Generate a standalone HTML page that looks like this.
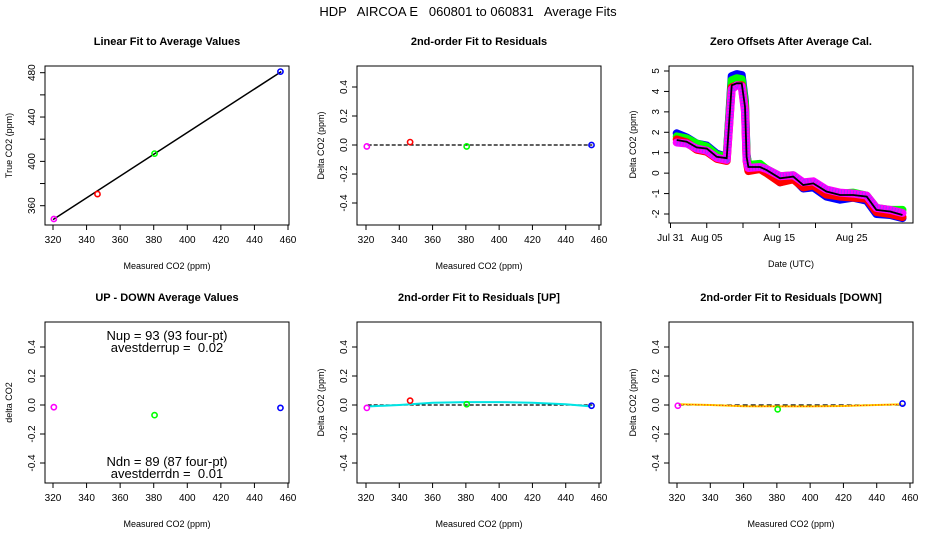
<!DOCTYPE html>
<html><head><meta charset="utf-8"><style>
html,body{margin:0;padding:0;background:#fff}
svg{display:block;font-family:"Liberation Sans",sans-serif}
</style></head><body>
<svg id="c" width="936" height="540" viewBox="0 0 936 540" xmlns="http://www.w3.org/2000/svg">
<rect x="0" y="0" width="936" height="540" fill="#fff"/>
<text x="468" y="16" text-anchor="middle" font-size="13" style="white-space:pre">HDP   AIRCOA E   060801 to 060831   Average Fits</text>
</svg>
<script>
// ---- data ----
const linX = [320.5, 346.5, 380.5, 455.5];
const linY = [348, 370.5, 407, 481];
const linColors = ['#ff00ff', '#ff0000', '#00ff00', '#0000ff'];
const linFit = [[320, 347.5], [456, 481]];

const resX = [320.5, 346.5, 380.5, 455.5];
const resY = [-0.01, 0.02, -0.01, 0.0];

const udX = [320.5, 380.5, 455.5];
const udY = [-0.015, -0.07, -0.02];
const udColors = ['#ff00ff', '#00ff00', '#0000ff'];

const upX = [320.5, 346.5, 380.5, 455.5];
const upY = [-0.02, 0.03, 0.005, -0.005];
const upCurveX = [322, 340, 360, 380, 400, 420, 440, 455];
const upCurveY = [-0.01, 0.0, 0.015, 0.02, 0.02, 0.015, 0.005, -0.01];

const dnX = [320.5, 380.5, 455.5];
const dnY = [-0.005, -0.03, 0.01];
const dnColors = ['#ff00ff', '#00ff00', '#0000ff'];
const dnCurveX = [322, 340, 360, 380, 400, 420, 440, 455];
const dnCurveY = [0.005, 0.0, -0.008, -0.01, -0.01, -0.007, 0.0, 0.005];

const tsDays = [0.85, 2.23, 3.6, 5.0, 6.37, 7.75, 8.44, 9.13, 9.82, 10.28, 10.5, 10.74, 12.34, 13.26, 15.1, 16.94, 18.3, 19.7, 21.5, 23.4, 25.2, 27.06, 28.4, 30.3, 32.0];
const tsMean = [1.62, 1.54, 1.26, 1.2, 0.8, 0.73, 4.3, 4.4, 4.4, 3.25, 0.8, 0.3, 0.3, 0.15, -0.25, -0.17, -0.58, -0.5, -0.9, -1.07, -1.07, -1.15, -1.8, -1.88, -2.05];
const tsBlue = [1.95, 1.75, 1.45, 1.35, 0.95, 0.8, 4.75, 4.85, 4.8, 3.5, 0.9, 0.35, 0.45, 0.1, -0.45, -0.25, -0.75, -0.7, -1.15, -1.3, -1.2, -1.35, -2.0, -2.05, -2.2];
const tsGreen = [1.8, 1.7, 1.45, 1.3, 0.9, 0.8, 4.55, 4.65, 4.6, 3.4, 0.85, 0.4, 0.45, 0.2, -0.15, -0.1, -0.5, -0.45, -0.85, -1.0, -0.95, -1.1, -1.7, -1.8, -1.8];
const tsRed = [1.65, 1.5, 1.15, 1.05, 0.7, 0.6, 4.2, 4.3, 4.3, 3.1, 0.6, 0.1, 0.2, 0.0, -0.45, -0.3, -0.7, -0.6, -1.05, -1.15, -1.2, -1.25, -1.9, -2.0, -2.15];
const tsMag = [1.5, 1.45, 1.2, 1.1, 0.75, 0.65, 4.1, 4.3, 4.25, 3.0, 0.6, 0.25, 0.3, 0.2, -0.15, -0.1, -0.45, -0.4, -0.8, -0.95, -1.0, -1.1, -1.7, -1.8, -1.95];
const dateTicks = [0, 5, 10, 15, 20, 25];
const dateLabels = ['Jul 31', 'Aug 05', '', 'Aug 15', '', 'Aug 25'];

const co2Ticks = [320, 340, 360, 380, 400, 420, 440, 460];
const trueTicks = [360, 380, 400, 420, 440, 460, 480];
const trueLabels = ['360', '', '400', '', '440', '', '480'];
const resTicks = [-0.4, -0.2, 0.0, 0.2, 0.4];
const resLabels = ['-0.4', '-0.2', '0.0', '0.2', '0.4'];
const offTicks = [-2, -1, 0, 1, 2, 3, 4, 5];

// ---- drawing ----
const svg = document.getElementById('c');
const NS = 'http://www.w3.org/2000/svg';
function mk(tag, attrs, parent) {
  const e = document.createElementNS(NS, tag);
  for (const k in attrs) e.setAttribute(k, attrs[k]);
  (parent || svg).appendChild(e);
  return e;
}
function lin(d0, d1, r0, r1) { return v => r0 + (v - d0) * (r1 - r0) / (d1 - d0); }

function panel(name, L, T, R, B, title, xlab, ylab) {
  const g = mk('g', {});
  
  
  const box = mk('rect', {x: L, y: T, width: R - L, height: B - T, fill: 'none', stroke: '#000', 'stroke-width': 1}, g);
  
  
  const t = mk('text', {x: (L + R) / 2, y: T - 21, 'text-anchor': 'middle', 'font-size': 11, 'font-weight': 'bold'}, g);
  t.textContent = title;
  
  
  const xl = mk('text', {x: (L + R) / 2, y: B + 44, 'text-anchor': 'middle', 'font-size': 9}, g);
  xl.textContent = xlab;
  
  
  const cy = (T + B) / 2;
  const yl = mk('text', {x: L - 33, y: cy, 'text-anchor': 'middle', 'font-size': 9, transform: `rotate(-90 ${L - 33} ${cy})`}, g);
  yl.textContent = ylab;
  
  
  return g;
}
function xAxis(g, ticks, labels, sx, B) {
  ticks.forEach((v, i) => {
    const x = sx(v);
    mk('line', {x1: x, x2: x, y1: B, y2: B + 5, stroke: '#000'}, g);
    if (labels[i] !== '') {
      const t = mk('text', {x: x, y: B + 18, 'text-anchor': 'middle', 'font-size': 10}, g);
      t.textContent = labels[i];
      
      
    }
  });
}
function yAxis(g, ticks, labels, sy, L) {
  ticks.forEach((v, i) => {
    const y = sy(v);
    mk('line', {x1: L - 5, x2: L, y1: y, y2: y, stroke: '#000'}, g);
    if (labels[i] !== '') {
      const t = mk('text', {x: L - 10, y: y, 'text-anchor': 'middle', 'font-size': 10, transform: `rotate(-90 ${L - 10} ${y})`}, g);
      t.textContent = labels[i];
      
      
    }
  });
}
function pts(g, xs, ys, cols, sx, sy) {
  xs.forEach((v, i) => {
    const c = mk('circle', {cx: sx(v), cy: sy(ys[i]), r: 2.6, fill: 'none', stroke: cols[i], 'stroke-width': 1.6}, g);
    
    
  });
}
function path(g, xs, ys, sx, sy, attrs) {
  const d = xs.map((v, i) => (i ? 'L' : 'M') + sx(v).toFixed(1) + ',' + sy(ys[i]).toFixed(1)).join(' ');
  return mk('path', Object.assign({d: d, fill: 'none'}, attrs), g);
}
const co2Labels = co2Ticks.map(String);

// Panel 1
{
  const L = 45, T = 66, R = 289, B = 225;
  const sx = lin(320, 460, 53, 288), sy = lin(360, 480, 205.7, 72.7);
  const g = panel('linear-fit-panel', L, T, R, B, 'Linear Fit to Average Values', 'Measured CO2 (ppm)', 'True CO2 (ppm)');
  xAxis(g, co2Ticks, co2Labels, sx, B);
  yAxis(g, trueTicks, trueLabels, sy, L);
  const fl = path(g, [linFit[0][0], linFit[1][0]], [linFit[0][1], linFit[1][1]], sx, sy, {stroke: '#000', 'stroke-width': 1.5});
  
  
  pts(g, linX, linY, linColors, sx, sy);
}
// Panel 2
{
  const L = 357, T = 66, R = 601, B = 225;
  const sx = lin(320, 460, 366, 599), sy = lin(0, 0.4, 145, 87);
  const g = panel('residuals-panel', L, T, R, B, '2nd-order Fit to Residuals', 'Measured CO2 (ppm)', 'Delta CO2 (ppm)');
  xAxis(g, co2Ticks, co2Labels, sx, B);
  yAxis(g, resTicks, resLabels, sy, L);
  const z = path(g, [321, 456], [0, 0], sx, sy, {stroke: '#000', 'stroke-width': 1.3, 'stroke-dasharray': '4,2'});
  
  
  pts(g, resX, resY, linColors, sx, sy);
}
// Panel 3
{
  const L = 669, T = 66, R = 913, B = 223;
  const sx = lin(0, 10, 670.5, 743), sy = lin(-2, 5, 214, 71);
  const g = panel('zero-offsets-panel', L, T, R, B, 'Zero Offsets After Average Cal.', 'Date (UTC)', 'Delta CO2 (ppm)');
  xAxis(g, dateTicks, dateLabels, sx, B);
  yAxis(g, offTicks, offTicks.map(String), sy, L);
  [[tsBlue, '#0000ff', 'blue'], [tsGreen, '#00ff00', 'green'], [tsRed, '#ff0000', 'red'], [tsMag, '#ff00ff', 'magenta']].forEach(s => {
    const p = path(g, tsDays, s[0], sx, sy, {stroke: s[1], 'stroke-width': 8, 'stroke-linejoin': 'round', 'stroke-linecap': 'round'});
    
    
  });
  const dp = path(g, tsDays, tsMag, sx, sy, {stroke: '#9933ff', 'stroke-width': 6, 'stroke-dasharray': '1,2', 'stroke-linejoin': 'round'});
  
  
  const m = path(g, tsDays, tsMean, sx, sy, {stroke: '#000', 'stroke-width': 1.8});
  
  
}
// Panel 4
{
  const L = 45, T = 322, R = 289, B = 483;
  const sx = lin(320, 460, 53, 288), sy = lin(0, 0.4, 405, 347);
  const g = panel('up-down-panel', L, T, R, B, 'UP - DOWN Average Values', 'Measured CO2 (ppm)', 'delta CO2');
  xAxis(g, co2Ticks, co2Labels, sx, B);
  yAxis(g, resTicks, resLabels, sy, L);
  pts(g, udX, udY, udColors, sx, sy);
  [['Nup = 93 (93 four-pt)', 340, 'nup-annotation'], ['avestderrup =  0.02', 352, 'avestderrup-annotation'], ['Ndn = 89 (87 four-pt)', 466, 'ndn-annotation'], ['avestderrdn =  0.01', 478, 'avestderrdn-annotation']].forEach(a => {
    const t = mk('text', {x: 167, y: a[1], 'text-anchor': 'middle', 'font-size': 13, style: 'white-space:pre'}, g);
    t.textContent = a[0];
    
    
  });
}
// Panel 5
{
  const L = 357, T = 322, R = 601, B = 483;
  const sx = lin(320, 460, 366, 599), sy = lin(0, 0.4, 405, 347);
  const g = panel('residuals-up-panel', L, T, R, B, '2nd-order Fit to Residuals [UP]', 'Measured CO2 (ppm)', 'Delta CO2 (ppm)');
  xAxis(g, co2Ticks, co2Labels, sx, B);
  yAxis(g, resTicks, resLabels, sy, L);
  const z = path(g, [321, 456], [0, 0], sx, sy, {stroke: '#000', 'stroke-width': 1.3, 'stroke-dasharray': '4,2'});
  
  
  const c = path(g, upCurveX, upCurveY, sx, sy, {stroke: '#00e5e5', 'stroke-width': 2});
  
  
  pts(g, upX, upY, linColors, sx, sy);
}
// Panel 6
{
  const L = 669, T = 322, R = 913, B = 483;
  const sx = lin(320, 460, 677, 910), sy = lin(0, 0.4, 405, 347);
  const g = panel('residuals-down-panel', L, T, R, B, '2nd-order Fit to Residuals [DOWN]', 'Measured CO2 (ppm)', 'Delta CO2 (ppm)');
  xAxis(g, co2Ticks, co2Labels, sx, B);
  yAxis(g, resTicks, resLabels, sy, L);
  const z = path(g, [321, 456], [0, 0], sx, sy, {stroke: '#000', 'stroke-width': 1.3, 'stroke-dasharray': '5,3'});
  
  
  const c = path(g, dnCurveX, dnCurveY, sx, sy, {stroke: '#ffd700', 'stroke-width': 2});
  
  
  const c2 = path(g, dnCurveX, dnCurveY, sx, sy, {stroke: '#ff0000', 'stroke-width': 1, 'stroke-dasharray': '1,2'});
  
  
  pts(g, dnX, dnY, dnColors, sx, sy);
}
</script>
</body></html>
